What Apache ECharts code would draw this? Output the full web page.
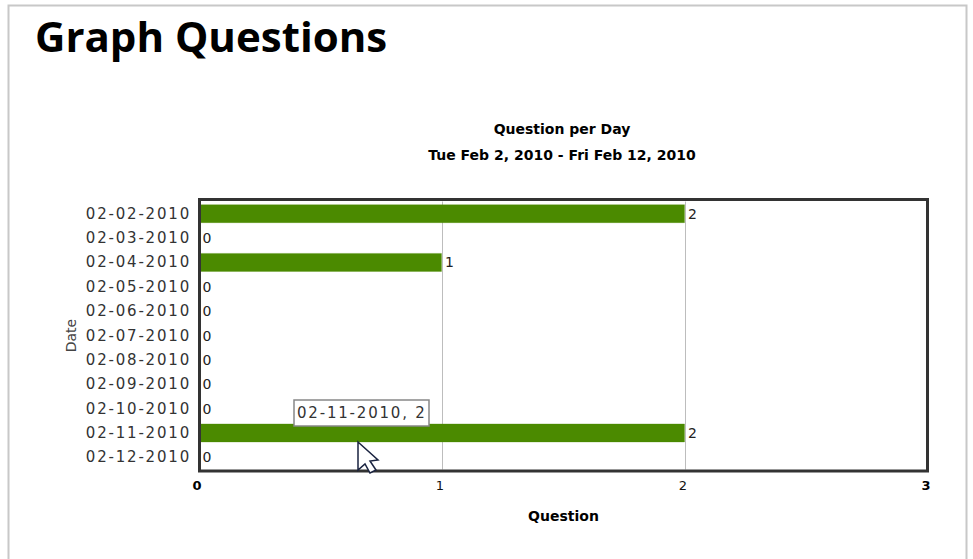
<!DOCTYPE html>
<html>
<head>
<meta charset="utf-8">
<title>Graph Questions</title>
<script src="https://cdn.jsdelivr.net/npm/echarts@6/dist/echarts.min.js"></script>
<style>
    html, body { margin: 0; padding: 0; background: #fff; }
    #chart { width: 973px; height: 559px; }
    /* the screenshot's date labels are set wide */
    #chart text[style*="15px"] { letter-spacing: 0.12em; }
</style>
</head>
<body>
<div id="chart"></div>
<script>
const dates = ['02-02-2010', '02-03-2010', '02-04-2010', '02-05-2010', '02-06-2010', '02-07-2010',
    '02-08-2010', '02-09-2010', '02-10-2010', '02-11-2010', '02-12-2010'];
const questions = [2, 0, 1, 0, 0, 0, 0, 0, 0, 2, 0];
const boldTicks = [0, 3];
const hoverText = '02-11-2010, 2';

const FONT = '"DejaVu Sans", sans-serif';

const chart = echarts.init(document.getElementById('chart'), null, { renderer: 'svg' });

chart.setOption({
    animation: false,
    backgroundColor: '#fff',
    title: [
        {
            text: 'Graph Questions',
            left: 30,
            top: 9,
            textStyle: { fontFamily: '"Open Sans", sans-serif', fontSize: 42, fontWeight: 'bold', color: '#000' },
        },
        {
            text: 'Question per Day',
            left: 557,
            top: 117,
            textAlign: 'center',
            textStyle: { fontFamily: FONT, fontSize: 14, fontWeight: 'bold', color: '#000' },
        },
        {
            text: 'Tue Feb 2, 2010 - Fri Feb 12, 2010',
            left: 557,
            top: 143,
            textAlign: 'center',
            textStyle: { fontFamily: FONT, fontSize: 14, fontWeight: 'bold', color: '#000' },
        },
    ],
    grid: {
        left: 199,
        top: 201.5,
        width: 729,
        height: 268,
    },
    xAxis: {
        type: 'value',
        min: 0,
        max: 3,
        interval: 1,
        name: 'Question',
        nameLocation: 'middle',
        nameGap: 39,
        nameTextStyle: { fontFamily: FONT, fontSize: 14, fontWeight: 'bold', color: '#000' },
        axisLine: { show: false },
        axisTick: { show: false },
        axisLabel: {
            margin: 9,
            hideOverlap: false,
            formatter: (v) => (boldTicks.includes(v) ? `{b|${v}}` : `{n|${v}}`),
            rich: {
                b: { fontFamily: FONT, fontSize: 13, fontWeight: 'bold', color: '#000', padding: [0, 4, 0, 0] },
                n: { fontFamily: FONT, fontSize: 13, color: '#111', padding: [0, 4, 0, 0] },
            },
        },
        splitLine: { show: true, lineStyle: { color: '#bdbdbd', width: 1 } },
    },
    yAxis: {
        type: 'category',
        data: dates,
        inverse: true,
        name: 'Date',
        nameLocation: 'middle',
        nameGap: 121,
        nameTextStyle: { fontFamily: FONT, fontSize: 14, color: '#444' },
        axisLine: { show: false },
        axisTick: { show: false },
        axisLabel: { interval: 0, margin: 8, fontFamily: FONT, fontSize: 15, color: '#333' },
        splitLine: { show: false },
    },
    series: [
        {
            type: 'bar',
            data: questions,
            barWidth: 19,
            itemStyle: { color: '#4b8a00', borderColor: 'rgba(75, 138, 0, 0.3)', borderWidth: 1 },
            label: {
                show: true,
                position: 'right',
                distance: 3,
                fontFamily: FONT,
                fontSize: 14,
                color: '#222',
            },
        },
    ],
    graphic: [
        // page frame around the chart
        {
            type: 'rect',
            z: -10,
            shape: { x: 8.5, y: 5.5, width: 958, height: 620 },
            style: { fill: 'none', stroke: '#c8c8c8', lineWidth: 2 },
        },
        // plot frame, above the bars
        {
            type: 'rect',
            z: 10,
            shape: { x: 199.5, y: 199.5, width: 728, height: 271.5 },
            style: { fill: 'none', stroke: '#333', lineWidth: 3 },
        },
        // hover tip and mouse pointer from the screenshot
        {
            type: 'rect',
            z: 20,
            shape: { x: 294, y: 400, width: 135, height: 26 },
            style: { fill: '#fff', stroke: '#888', lineWidth: 1.5 },
        },
        {
            type: 'text',
            z: 21,
            x: 297,
            y: 405,
            style: { text: hoverText, fontFamily: FONT, fontSize: 15, fill: '#333' },
        },
        {
            type: 'polygon',
            z: 22,
            shape: {
                points: [[358, 442], [378, 460], [370, 461], [376, 470], [370, 473], [365, 464], [358, 470]],
            },
            style: { fill: '#fff', stroke: '#1a2340', lineWidth: 1.5 },
        },
    ],
});
</script>
</body>
</html>
